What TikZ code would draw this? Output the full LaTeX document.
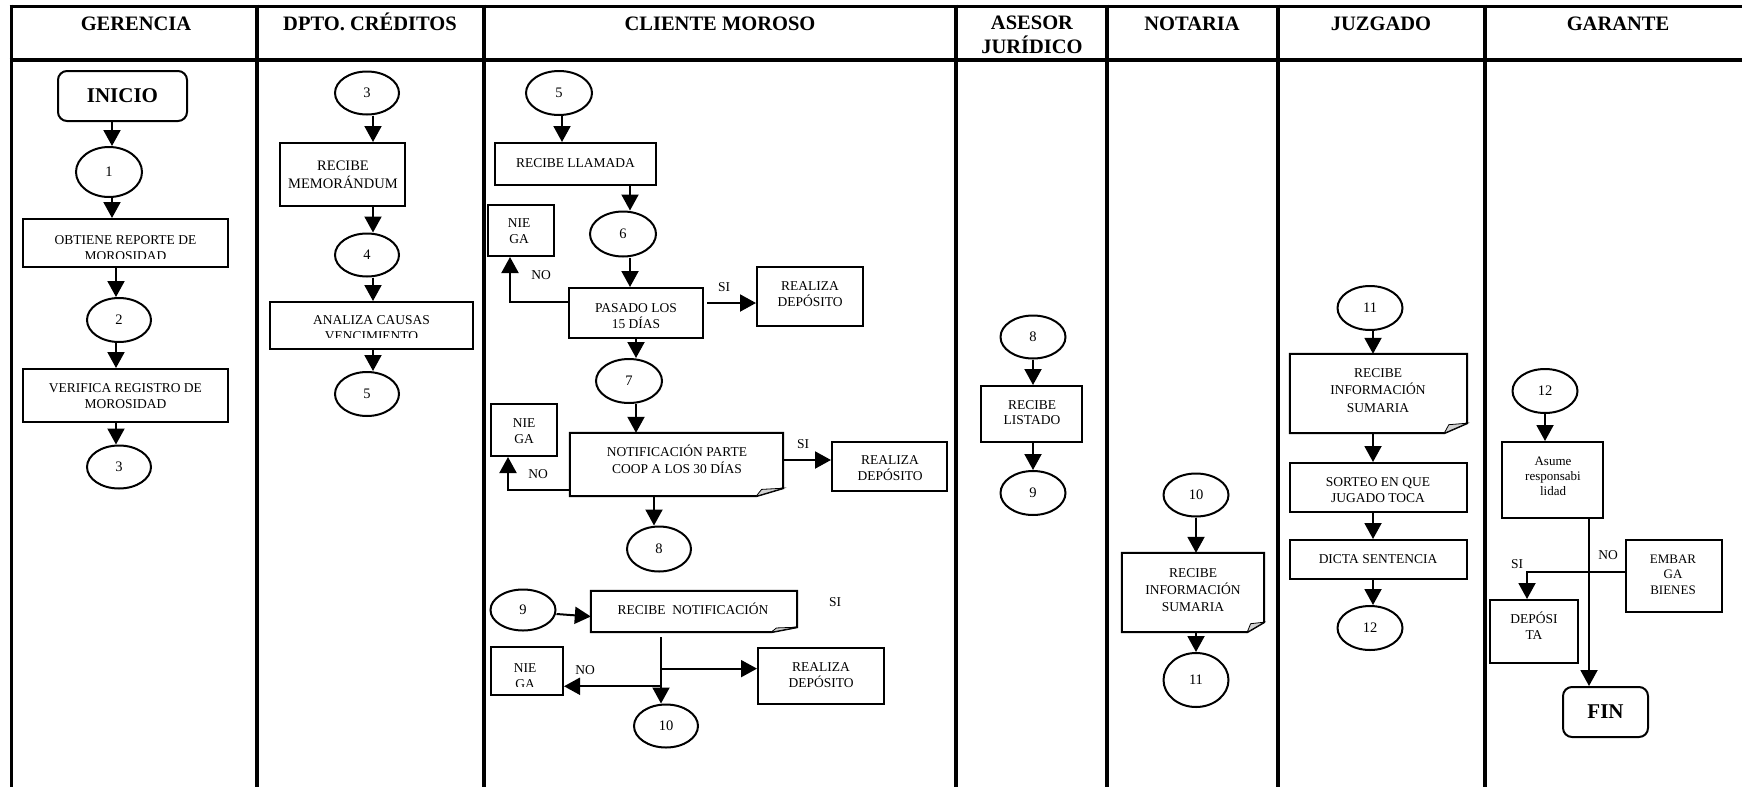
\documentclass[tikz,border=0pt]{standalone}
\usepackage{fontspec}
\setmainfont{Liberation Serif}
\usetikzlibrary{arrows.meta,shapes.geometric,calc}

% centred multi-line text whose baseline is the first line
\newcommand{\ml}[1]{\begin{tabular}[t]{@{}c@{}}#1\end{tabular}}
% document symbol: outline with folded bottom-right corner
\newcommand{\docdraw}[3]{%
  \draw[line width=2pt, line join=miter] (#1.north west) -- (#1.north east)
    -- ([yshift=#3]#1.south east) -- ([xshift=-#2]#1.south east)
    -- (#1.south west) -- cycle;
  \filldraw[fill=gray!35, line width=0.8pt] ([xshift=-#2]#1.south east)
    -- ([yshift=#3]#1.south east) -- ([xshift=-0.8*#2, yshift=0.85*#3]#1.south east) -- cycle;
}

\tikzset{
  lane/.style={line width=3.8pt},
  sz/.style 2 args={minimum width=#1pt, minimum height=#2pt},
  box/.style={draw, rectangle, line width=2pt, inner sep=0pt},
  doc/.style={rectangle, inner sep=0pt},
  term/.style={draw, rectangle, rounded corners=9pt, line width=2pt, inner sep=0pt,
    font=\fontsize{21}{24}\selectfont\bfseries},
  ell/.style={draw, ellipse, line width=2pt, inner sep=0pt,
    font=\fontsize{14.5}{17}\selectfont},
  txt/.style={anchor=base, inner sep=0pt, font=\fontsize{13.5}{16}\selectfont},
  head/.style={anchor=base, inner sep=0pt, font=\fontsize{20.5}{24}\selectfont\bfseries},
  lbl/.style={inner sep=0pt, font=\fontsize{13.5}{16}\selectfont},
  arr/.style={line width=2pt, -{Triangle[length=16pt,width=17pt]}},
}

\begin{document}
\begin{tikzpicture}[x=1pt,y=-1pt]
\useasboundingbox (0,0) rectangle (1742,787);

% ---------- swimlane grid ----------
\draw[lane] (9.6,6.5) -- (1742,6.5);
\draw[lane] (9.6,60) -- (1742,60);
\foreach \lx in {11.5,257,484,956,1107,1278,1485}
  \draw[lane] (\lx,4.6) -- (\lx,787);

% ---------- lane titles ----------
\node[head] (hger) at (136,30) {GERENCIA};
\node[head] (hdpt) at (370,30) {DPTO. CRÉDITOS};
\node[head] (hcli) at (720,30) {CLIENTE MOROSO};
\node[head] (hase) at (1032,29) {\ml{ASESOR\\JURÍDICO}};
\node[head] (hnot) at (1192,30) {NOTARIA};
\node[head] (hjuz) at (1381,30) {JUZGADO};
\node[head] (hgar) at (1618,30) {GARANTE};

% ---------- GERENCIA ----------
\node[term, sz={129}{50}] (inicio) at (122.5,96) {INICIO};
\node[ell, sz={66}{50}] (g1e) at (109,172) {1};
\node[box, sz={205}{48}] (obt) at (125.5,243) {};
\begin{scope}
  \clip (obt.north west) rectangle ([yshift=10pt]obt.south east);
  \node[txt] (tobt) at (125.5,244) {\ml{OBTIENE REPORTE DE\\MOROSIDAD}};
\end{scope}
\node[ell, sz={64}{44}] (g2e) at (119,320) {2};
\node[box, sz={205}{53}] (ver) at (125.5,395.5) {};
\node[txt] (tver) at (125.5,392) {\ml{VERIFICA REGISTRO DE\\MOROSIDAD}};
\node[ell, sz={64}{43}] (g3e) at (119,467) {3};

% ---------- DPTO. CREDITOS ----------
\node[ell, sz={64}{43}] (d3e) at (367,93) {3};
\node[box, sz={125}{63}] (memo) at (342.5,174.5) {};
\node[txt, font=\fontsize{14.5}{18}\selectfont] (tmemo) at (343,170) {\ml{RECIBE\\MEMORÁNDUM}};
\node[ell, sz={64}{43}] (d4e) at (367,255) {4};
\node[box, sz={203}{47}] (anal) at (371.5,325.5) {};
\begin{scope}
  \clip (anal.north west) rectangle ([yshift=13pt]anal.south east);
  \node[txt] (tanal) at (371.5,324) {\ml{ANALIZA CAUSAS\\VENCIMIENTO}};
\end{scope}
\node[ell, sz={64}{44}] (d5e) at (367,394) {5};

% ---------- CLIENTE MOROSO ----------
\node[ell, sz={66}{44}] (c5e) at (559,93) {5};
\node[box, sz={161}{42}] (llam) at (575.5,164) {};
\node[txt] (tllam) at (575.5,167) {RECIBE LLAMADA};
\node[ell, sz={66}{45}] (c6e) at (623,234) {6};
\node[box, sz={66}{51}] (nie1) at (521,230.5) {};
\node[txt] (tnie1) at (519,227) {\ml{NIE\\GA}};
\node[box, sz={134}{50}] (pas) at (636,313) {};
\node[txt, font=\fontsize{13.5}{15.5}\selectfont] (tpas) at (636,312) {\ml{PASADO LOS\\15 DÍAS}};
\node[box, sz={106}{59}] (rea1) at (810,296.5) {};
\node[txt] (trea1) at (810,290) {\ml{REALIZA\\DEPÓSITO}};
\node[ell, sz={66}{44}] (c7e) at (629,381) {7};
\node[box, sz={66}{52}] (nie2) at (524,430) {};
\node[txt] (tnie2) at (524,427) {\ml{NIE\\GA}};
\node[doc, sz={213}{63}] (notif) at (676.5,464.5) {};
\docdraw{notif}{27pt}{8pt}
\node[txt, font=\fontsize{13.5}{17}\selectfont] (tnotif) at (677,456) {\ml{NOTIFICACIÓN PARTE\\COOP A LOS 30 DÍAS}};
\node[box, sz={115}{49}] (rea2) at (889.5,466.5) {};
\node[txt, font=\fontsize{13.5}{15.5}\selectfont] (trea2) at (890,464) {\ml{REALIZA\\DEPÓSITO}};
\node[ell, sz={64}{45}] (c8e) at (659,549) {8};
\node[ell, sz={65}{41}] (c9e) at (523,610) {9};
\node[doc, sz={206}{41}] (recnot) at (694,611.5) {};
\docdraw{recnot}{26pt}{5pt}
\node[txt] (trecnot) at (693,614) {RECIBE\ \ NOTIFICACIÓN};
\node[box, sz={72}{48}] (nie3) at (527,671) {};
\begin{scope}
  \clip (nie3.north west) rectangle ([yshift=10pt]nie3.south east);
  \node[txt] (tnie3) at (525,672) {\ml{NIE\\GA}};
\end{scope}
\node[box, sz={126}{56}] (rea3) at (821,676) {};
\node[txt] (trea3) at (821,671) {\ml{REALIZA\\DEPÓSITO}};
\node[ell, sz={64}{43}] (c10e) at (666,726) {10};

% ---------- ASESOR JURIDICO ----------
\node[ell, sz={65}{43}] (a8e) at (1033,337) {8};
\node[box, sz={101}{56}] (list) at (1031.5,414) {};
\node[txt, font=\fontsize{13.5}{15.5}\selectfont] (tlist) at (1032,409) {\ml{RECIBE\\LISTADO}};
\node[ell, sz={65}{44}] (a9e) at (1033,493) {9};

% ---------- NOTARIA ----------
\node[ell, sz={65}{43}] (n10e) at (1196,495) {10};
\node[doc, sz={142}{79}] (notinf) at (1193,592.5) {};
\docdraw{notinf}{17pt}{10pt}
\node[txt, font=\fontsize{13.5}{17}\selectfont] (tnotinf) at (1193,577) {\ml{RECIBE\\INFORMACIÓN\\SUMARIA}};
\node[ell, sz={65}{54}] (n11e) at (1196,680) {11};

% ---------- JUZGADO ----------
\node[ell, sz={65}{44}] (j11e) at (1370,308) {11};
\node[doc, sz={177}{79}] (juzinf) at (1378.5,393.5) {};
\docdraw{juzinf}{23pt}{10pt}
\node[txt, font=\fontsize{13.5}{17.5}\selectfont] (tjuzinf) at (1378,377) {\ml{RECIBE\\INFORMACIÓN\\SUMARIA}};
\node[box, sz={177}{49}] (sort) at (1378.5,487.5) {};
\node[txt] (tsort) at (1378,486) {\ml{SORTEO EN QUE\\JUGADO TOCA}};
\node[box, sz={177}{39}] (dicta) at (1378.5,559.5) {};
\node[txt] (tdicta) at (1378,563) {DICTA SENTENCIA};
\node[ell, sz={65}{44}] (j12e) at (1370,628) {12};

% ---------- GARANTE ----------
\node[ell, sz={65}{44}] (ga12e) at (1545,391) {12};
\node[box, sz={101}{76}] (asume) at (1552.5,480) {};
\node[txt, font=\fontsize{13}{15}\selectfont] (tasume) at (1553,465) {\ml{Asume\\responsabi\\lidad}};
\node[box, sz={96}{72}] (emb) at (1674,576) {};
\node[txt, font=\fontsize{13}{15.5}\selectfont] (temb) at (1673,563) {\ml{EMBAR\\GA\\BIENES}};
\node[box, sz={88}{63}] (depo) at (1534,631.5) {};
\node[txt] (tdepo) at (1534,623) {\ml{DEPÓSI\\TA}};
\node[term, sz={85}{50}] (fin) at (1605.5,712) {FIN};

% ---------- branch labels ----------
\node[lbl] (no1) at (541,275) {NO};
\node[lbl] (si1) at (724,287) {SI};
\node[lbl] (no2) at (538,474) {NO};
\node[lbl] (si2) at (803,444) {SI};
\node[lbl] (si3) at (835,602) {SI};
\node[lbl] (no3) at (585,670) {NO};
\node[lbl] (no4) at (1608,555) {NO};
\node[lbl] (si4) at (1517,564) {SI};

% ---------- connectors: GERENCIA ----------
\draw[arr] ([xshift=3pt]inicio.south -| g1e) -- ([xshift=3pt]g1e.north);
\draw[arr] ([xshift=3pt]g1e.south) -- ([xshift=3pt]g1e.south |- obt.north);
\draw[arr] ([xshift=-3pt]obt.south -| g2e) -- ([xshift=-3pt]g2e.north);
\draw[arr] ([xshift=-3pt]g2e.south) -- ([xshift=-3pt]g2e.south |- ver.north);
\draw[arr] ([xshift=-3pt]ver.south -| g3e) -- ([xshift=-3pt]g3e.north);

% ---------- connectors: DPTO. CREDITOS ----------
\draw[arr] ([xshift=6pt]d3e.south) -- ([xshift=6pt]d3e.south |- memo.north);
\draw[arr] ([xshift=6pt]memo.south -| d4e) -- ([xshift=6pt]d4e.north);
\draw[arr] ([xshift=6pt]d4e.south) -- ([xshift=6pt]d4e.south |- anal.north);
\draw[arr] ([xshift=6pt]anal.south -| d5e) -- ([xshift=6pt]d5e.north);

% ---------- connectors: CLIENTE MOROSO ----------
\draw[arr] ([xshift=3pt]c5e.south) -- ([xshift=3pt]c5e.south |- llam.north);
\draw[arr] ([xshift=7pt]llam.south -| c6e) -- ([xshift=7pt]c6e.north);
\draw[arr] ([xshift=7pt]c6e.south) -- ([xshift=7pt]c6e.south |- pas.north);
\draw[arr] ([yshift=11pt]pas.west) -| ([xshift=-11pt]nie1.south);
\draw[arr] ([xshift=3pt,yshift=10pt]pas.east) -- ([yshift=-6.5pt]rea1.west);
\draw[arr] (pas.south) -- (pas.south |- c7e.north);
\draw[arr] ([xshift=7pt]c7e.south) -- ([xshift=7pt]c7e.south |- notif.north);
\draw[arr] ([yshift=-25.5pt]notif.west) -| ([xshift=-16pt]nie2.south);
\draw[arr] ([yshift=4.5pt]notif.east) -- ([yshift=6.5pt]rea2.west);
\draw[arr] ([xshift=-5pt]notif.south -| c8e) -- ([xshift=-5pt]c8e.north);
\draw[arr] ([yshift=-4pt]c9e.east) -- ([yshift=-5pt]recnot.west);
\draw[arr] ([xshift=-33pt,yshift=-5pt]recnot.south) -- ([xshift=-5pt]c10e.north)
  coordinate[pos=0.474] (br1) coordinate[pos=0.74] (br2);
\draw[arr] (br1) -- (rea3.west |- br1);
\draw[arr] (br2) -- (nie3.east |- br2);

% ---------- connectors: ASESOR, NOTARIA, JUZGADO ----------
\draw[arr] (a8e.south) -- (a8e.south |- list.north);
\draw[arr] (list.south -| a9e) -- (a9e.north);
\draw[arr] (n10e.south) -- (n10e.south |- notinf.north);
\draw[arr] (notinf.south -| n11e) -- (n11e.north);
\draw[arr] ([xshift=3pt]j11e.south) -- ([xshift=3pt]j11e.south |- juzinf.north);
\draw[arr] ([xshift=3pt]juzinf.south -| j11e) -- ([xshift=3pt]sort.north -| j11e);
\draw[arr] ([xshift=3pt]sort.south -| j11e) -- ([xshift=3pt]dicta.north -| j11e);
\draw[arr] ([xshift=3pt]dicta.south -| j12e) -- ([xshift=3pt]j12e.north);

% ---------- connectors: GARANTE ----------
\draw[arr] (ga12e.south) -- (ga12e.south |- asume.north);
\draw[arr] ([xshift=36.5pt]asume.south) -- ([xshift=36.5pt]asume.south |- fin.north);
\draw[arr] ([yshift=4pt]emb.west) -| ([xshift=-7pt]depo.north);

\end{tikzpicture}
\end{document}
